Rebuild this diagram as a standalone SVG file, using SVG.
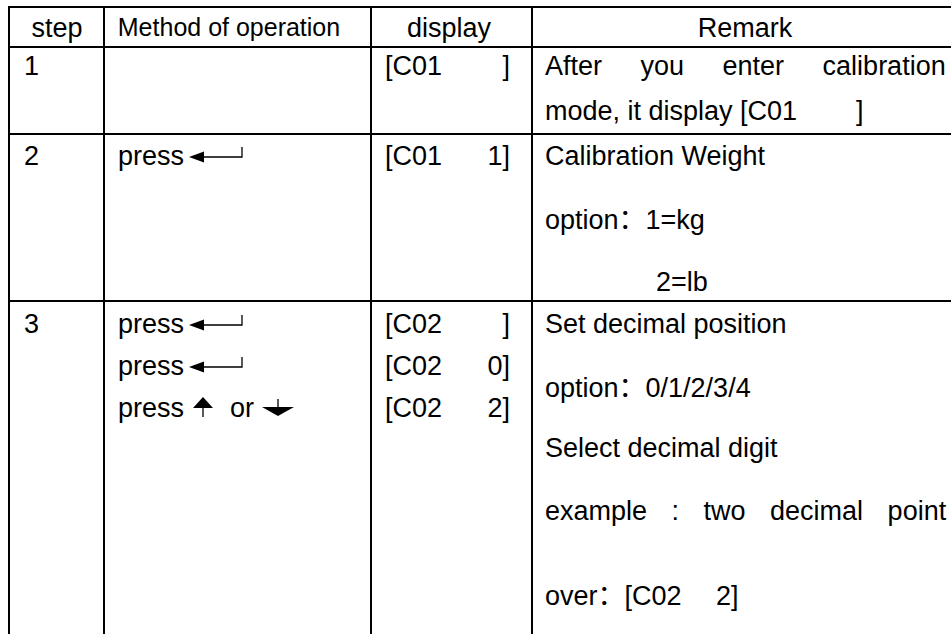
<svg xmlns="http://www.w3.org/2000/svg" width="951" height="634" viewBox="0 0 951 634">
<style>
text{font-family:"Liberation Sans","Noto Sans CJK SC",Arial,sans-serif;font-size:27px;fill:#000}
.h{text-anchor:middle}
.m{font-size:25px}
.r{text-anchor:end}
.grid line{stroke:#000;stroke-width:2}
.thin{stroke:#000;stroke-width:1.3;fill:none}
.fill{fill:#000;stroke:none}
</style>
<defs>
<g id="enter"><polygon class="fill" points="0,0 15,-5.5 15,5.5"/><path class="thin" d="M15,0H53V-10"/></g>
</defs>
<g id="connectors" class="grid">
<line x1="8" y1="7" x2="951" y2="7"/>
<line x1="8" y1="47" x2="951" y2="47"/>
<line x1="8" y1="134" x2="951" y2="134"/>
<line x1="8" y1="301" x2="951" y2="301"/>
<line x1="9" y1="6" x2="9" y2="634"/>
<line x1="104" y1="6" x2="104" y2="634"/>
<line x1="371" y1="6" x2="371" y2="634"/>
<line x1="532" y1="6" x2="532" y2="634"/>
</g>
<g id="header">
<text class="h" x="57" y="37">step</text>
<text class="h m" x="229" y="36">Method of operation</text>
<text class="h" x="449" y="37">display</text>
<text class="h" x="745" y="37">Remark</text>
</g>
<g id="row1">
<text x="24" y="75">1</text>
<text x="385" y="75">[C01</text>
<text class="r" x="510" y="75">]</text>
<text x="545" y="75" word-spacing="31">After you enter calibration</text>
<text x="545" y="120">mode, it display [C01</text>
<text x="856" y="120">]</text>
</g>
<g id="row2">
<text x="24" y="165">2</text>
<text x="118" y="165">press</text>
<use href="#enter" x="189" y="157"/>
<text x="385" y="165">[C01</text>
<text class="r" x="510" y="165">1]</text>
<text x="545" y="165">Calibration Weight</text>
<text x="545" y="229">option：1=kg</text>
<text x="656" y="291">2=lb</text>
</g>
<g id="row3">
<text x="24" y="333">3</text>
<text x="118" y="333">press</text>
<use href="#enter" x="189" y="325"/>
<text x="118" y="375">press</text>
<use href="#enter" x="189" y="367"/>
<text x="118" y="417">press</text>
<polygon class="fill" points="203,397 193,408 213,408"/>
<line class="thin" x1="203" y1="407" x2="203" y2="417"/>
<text x="230" y="417">or</text>
<line class="thin" x1="278" y1="399" x2="278" y2="408"/>
<polygon class="fill" points="262,407 294,407 278,416"/>
<text x="385" y="333">[C02</text>
<text class="r" x="510" y="333">]</text>
<text x="385" y="375">[C02</text>
<text class="r" x="510" y="375">0]</text>
<text x="385" y="417">[C02</text>
<text class="r" x="510" y="417">2]</text>
<text x="545" y="333">Set decimal position</text>
<text x="545" y="397">option：0/1/2/3/4</text>
<text x="545" y="457">Select decimal digit</text>
<text x="545" y="520" word-spacing="17">example : two decimal point</text>
<text x="545" y="605">over：[C02</text>
<text x="716" y="605">2]</text>
</g>
</svg>
